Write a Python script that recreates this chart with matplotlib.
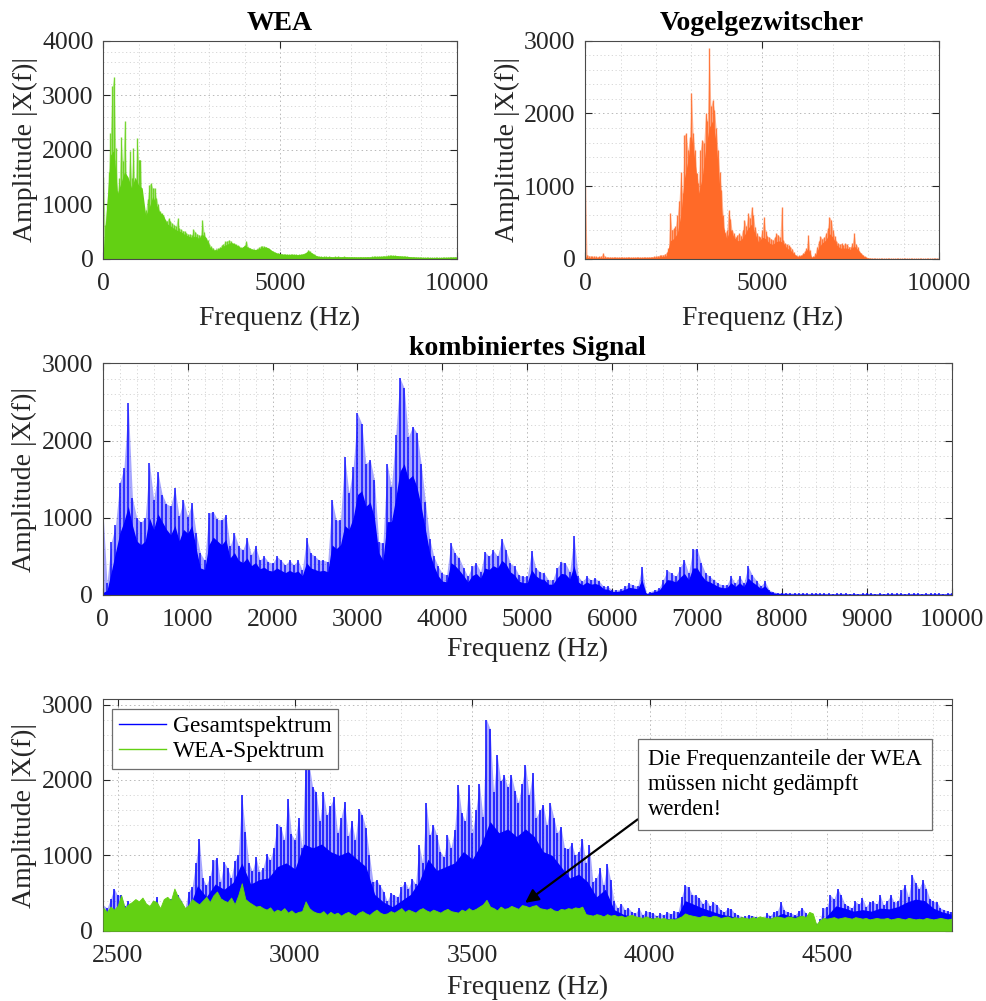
import numpy as np
import matplotlib
matplotlib.use("Agg")
import matplotlib.pyplot as plt
from matplotlib.ticker import MultipleLocator
from matplotlib.lines import Line2D

plt.rcParams['font.family'] = ['Liberation Serif', 'DejaVu Serif']

C_WEA = '#63d013'
C_BIRD = '#ff6a28'
C_MIX = '#0000ff'
C_AX = '#262626'

# ---------------- WEA spectrum (0-10000 Hz) ----------------
wea_step = 50
wea_peak = [
    1510, 630, 1000, 1600, 2310, 3160, 3340, 2030, 1240, 1480, 2240, 1790, 2520, 1500, 1360, 1970, 1480, 2030, 1180, 2210,
    1820, 1820, 990, 750, 900, 1100, 1360, 1390, 1300, 1300, 1120, 1000, 870, 840, 800, 720, 700, 750, 690, 650,
    630, 600, 750, 560, 540, 520, 510, 480, 450, 460, 440, 540, 500, 460, 445, 430, 720, 500, 390, 350,
    280, 230, 200, 170, 190, 200, 220, 260, 280, 320, 330, 350, 330, 300, 290, 270, 250, 230, 210, 220,
    260, 320, 220, 200, 190, 180, 170, 190, 210, 230, 240, 230, 220, 200, 180, 150, 140, 120, 110, 110,
    100, 95, 90, 92, 90, 85, 90, 92, 88, 85, 80, 82, 90, 100, 110, 130, 170, 140, 110, 90,
    70, 60, 50, 48, 45, 50, 46, 44, 48, 45, 42, 46, 44, 48, 45, 43, 46, 44, 45, 42,
    44, 42, 45, 40, 42, 44, 41, 43, 40, 42, 45, 43, 46, 48, 50, 52, 55, 53, 57, 60,
    62, 65, 68, 70, 66, 64, 62, 60, 58, 55, 52, 50, 48, 45, 42, 40, 38, 36, 35, 34,
    33, 32, 30, 31, 29, 30, 28, 29, 30, 28, 27, 29, 30, 31, 32, 34, 35, 36, 38, 40,
    42,
]
wea_body_step = 100
wea_body = [
    150, 1000, 1900, 2000, 1200, 1400, 1600, 1500, 1300, 1500,
    1350, 1300, 800, 950, 1150, 1000, 850, 800, 650, 600,
    560, 520, 500, 450, 420, 400, 420, 380, 450, 400,
    230, 170, 160, 200, 240, 270, 300, 280, 240, 200,
    250, 210, 180, 170, 190, 210, 220, 190, 140, 110,
    95, 85, 80, 82, 80, 78, 85, 100, 150, 110,
    65, 45, 42, 40, 42, 40, 41, 40, 42, 40,
    38, 38, 36, 36, 38, 37, 40, 42, 45, 48,
    52, 58, 62, 60, 55, 50, 45, 40, 36, 33,
    30, 28, 27, 26, 26, 27, 28, 30, 32, 34,
    36,
]

# ---------------- Vogelgezwitscher spectrum (0-10000 Hz) ----------------
bird_step = 50
bird_peak = [
    990, 60, 45, 40, 35, 40, 35, 30, 35, 40, 80, 35, 30, 28, 30, 27, 28, 30, 26, 28,
    27, 29, 26, 28, 30, 27, 26, 28, 27, 29, 28, 26, 27, 29, 28, 30, 31, 30, 32, 35,
    40, 45, 50, 55, 60, 70, 90, 150, 630, 400, 420, 450, 600, 800, 1200, 900, 1700, 1730, 1500, 1680,
    2280, 1730, 1500, 1180, 1040, 1500, 1640, 1600, 2000, 1900, 2900, 2100, 2190, 2050, 1800, 1500, 1200, 950, 600, 350,
    400, 670, 550, 400, 350, 300, 330, 350, 320, 400, 540, 450, 630, 560, 720, 600, 440, 350, 310, 300,
    400, 580, 380, 310, 300, 280, 260, 300, 350, 330, 300, 720, 260, 215, 200, 190, 170, 140, 90, 55,
    45, 50, 55, 80, 110, 150, 330, 120, 32, 40, 80, 170, 250, 310, 280, 300, 350, 420, 580, 540,
    400, 310, 250, 215, 200, 215, 190, 215, 200, 170, 170, 220, 350, 200, 170, 110, 80, 60, 35, 25,
    20, 15, 12, 10, 10, 9, 10, 9, 8, 9, 10, 9, 8, 9, 8, 8, 9, 8, 8, 9,
    8, 8, 9, 8, 8, 7, 8, 8, 9, 8, 8, 7, 8, 8, 8, 9, 8, 8, 8, 9,
    10,
]
bird_body_step = 100
bird_body = [
    30, 18, 18, 18, 18, 18, 18, 18, 18, 18,
    18, 18, 18, 18, 18, 18, 18, 18, 20, 22,
    25, 28, 35, 45, 250, 280, 350, 600, 1100, 1350,
    1700, 1350, 900, 1100, 1500, 1800, 1900, 1600, 1000, 450,
    280, 420, 300, 250, 260, 330, 420, 480, 350, 230,
    300, 280, 220, 200, 240, 250, 220, 150, 120, 70,
    30, 45, 80, 150, 18, 40, 160, 220, 260, 350,
    300, 200, 150, 150, 150, 130, 180, 130, 70, 25,
    10, 7, 6, 6, 6, 6, 6, 6, 6, 6,
    6, 6, 6, 6, 6, 6, 6, 6, 6, 6,
    6,
]

# ---------------- kombiniertes Signal (0-10000 Hz) ----------------
mix_step = 50
mix_peak = [
    1140, 160, 680, 900, 1450, 1650, 2480, 1250, 1000, 940, 1000, 1710, 1230, 1590, 1300, 1180, 1150, 1380, 1020, 1230,
    1015, 1190, 800, 540, 450, 1060, 1080, 980, 970, 1040, 630, 800, 630, 580, 735, 520, 630, 450, 500, 430,
    410, 500, 450, 390, 450, 390, 450, 320, 735, 540, 500, 450, 450, 430, 1230, 970, 970, 1790, 1320, 1660,
    2350, 2220, 1700, 1750, 1490, 690, 670, 1700, 1400, 2070, 2810, 2680, 2050, 2180, 2100, 1700, 1210, 730, 500, 370,
    280, 260, 670, 540, 475, 350, 240, 370, 410, 300, 560, 500, 580, 500, 730, 580, 410, 370, 260, 240,
    240, 570, 350, 300, 280, 195, 195, 350, 430, 410, 300, 760, 240, 175, 240, 195, 215, 175, 110, 110,
    65, 65, 75, 110, 150, 130, 110, 360, 25, 45, 65, 85, 195, 320, 280, 240, 360, 450, 280, 590,
    600, 410, 280, 240, 195, 150, 130, 130, 240, 150, 245, 150, 370, 260, 185, 120, 175, 65, 40, 30,
    30, 28, 25, 25, 22, 25, 20, 22, 25, 20, 22, 20, 18, 20, 22, 20, 18, 20, 18, 20,
    22, 20, 18, 20, 18, 20, 22, 20, 20, 18, 20, 22, 20, 18, 20, 20, 22, 20, 18, 20,
    25,
]
mix_body_step = 50
mix_body = [
    30, 60, 300, 550, 800, 950, 1150, 900, 700, 650, 700, 1000, 850, 1050, 950, 850, 780, 900, 700, 850,
    800, 900, 600, 350, 330, 650, 750, 700, 650, 720, 480, 550, 450, 420, 480, 380, 420, 340, 360, 320,
    310, 350, 320, 290, 320, 290, 310, 250, 420, 350, 330, 310, 320, 300, 650, 600, 650, 900, 850, 1000,
    1300, 1350, 1150, 1200, 1000, 550, 450, 950, 950, 1250, 1600, 1700, 1500, 1550, 1400, 1150, 850, 550, 380, 250,
    180, 170, 420, 380, 320, 250, 170, 250, 280, 220, 350, 330, 380, 350, 450, 400, 300, 260, 180, 160,
    160, 330, 250, 210, 200, 140, 140, 220, 280, 270, 210, 380, 170, 130, 170, 140, 150, 130, 80, 75,
    45, 45, 55, 75, 100, 90, 80, 200, 18, 30, 45, 60, 130, 200, 190, 170, 230, 280, 200, 350,
    350, 260, 190, 170, 140, 110, 95, 95, 160, 110, 160, 110, 220, 170, 130, 85, 120, 50, 28, 20,
    18, 17, 15, 15, 14, 15, 13, 14, 15, 13, 14, 13, 12, 13, 14, 13, 12, 13, 12, 13,
    14, 13, 12, 13, 12, 13, 14, 13, 13, 12, 13, 14, 13, 12, 13, 13, 14, 13, 12, 13,
    15,
]

# ---------------- Ausschnitt 2460-4850 Hz ----------------
zoom_start, zoom_step = 2460, 10
gesamt_peak = [
    340, 300, 420, 560, 470, 480, 330, 390, 280, 300,
    330, 345, 300, 260, 330, 450, 210, 300, 380, 420,
    400, 480, 400, 300, 520, 580, 900, 1215, 700, 600,
    720, 935, 960, 650, 910, 830, 700, 930, 1000, 1800,
    1310, 900, 790, 980, 780, 830, 1020, 940, 1100, 1420,
    1380, 1200, 1750, 1280, 1200, 1490, 1100, 2350, 2200, 1900,
    1840, 1450, 1840, 1530, 1660, 1770, 1300, 1500, 1710, 1250,
    1460, 1200, 1620, 1530, 1360, 1000, 650, 670, 600, 520,
    390, 500, 470, 450, 580, 650, 560, 690, 620, 1140,
    900, 1690, 1270, 1400, 1270, 1050, 980, 1270, 1100, 1340,
    1930, 1560, 1450, 1930, 1300, 1600, 1950, 1510, 2800, 2680,
    1840, 2330, 1990, 2060, 1900, 2060, 1860, 1700, 1950, 2200,
    1800, 2090, 1500, 1600, 1670, 1400, 1690, 1500, 1300, 1380,
    1100, 1090, 1160, 1000, 1050, 1220, 900, 1140, 650, 700,
    830, 600, 890, 670, 390, 300, 360, 280, 300, 250,
    230, 300, 210, 260, 250, 230, 200, 230, 210, 250,
    220, 260, 250, 450, 600, 580, 480, 470, 430, 360,
    410, 330, 380, 340, 280, 250, 300, 290, 230, 210,
    180, 190, 210, 200, 185, 170, 160, 230, 200, 250,
    260, 380, 270, 250, 230, 210, 260, 300, 240, 170,
    160, 90, 150, 300, 320, 470, 420, 560, 470, 360,
    330, 300, 390, 350, 430, 320, 380, 390, 350, 470,
    340, 400, 470, 380, 390, 540, 600, 450, 740, 630,
    560, 670, 560, 420, 390, 380, 300, 280, 260, 250,
]
gesamt_body_start, gesamt_body_step = 2450, 25
gesamt_body = [
    250, 220, 280, 230, 240, 210, 250, 180, 280, 300,
    280, 600, 450, 620, 550, 640, 900, 620, 680, 700,
    850, 900, 820, 1150, 1100, 1150, 1050, 1000, 1050, 950,
    850, 480, 380, 320, 400, 480, 650, 950, 800, 850,
    900, 1050, 950, 1150, 1450, 1300, 1350, 1250, 1350, 1250,
    1050, 1000, 850, 700, 750, 650, 450, 550, 280, 220,
    190, 170, 180, 150, 160, 170, 400, 350, 300, 260,
    220, 200, 170, 150, 150, 140, 180, 230, 190, 200,
    160, 80, 200, 330, 300, 260, 280, 260, 300, 290,
    320, 380, 420, 400, 300, 250, 220,
]
wea_zoom = [
    300, 250, 320, 280, 330, 470, 300, 350, 380, 420,
    390, 440, 360, 330, 400, 380, 300, 420, 450, 400,
    560, 450, 380, 300, 340, 420, 380, 350, 400, 450,
    380, 470, 520, 430, 400, 380, 440, 350, 470, 630,
    420, 380, 350, 320, 330, 300, 280, 310, 250, 280,
    260, 300, 240, 270, 230, 250, 260, 390, 300, 260,
    240, 230, 260, 210, 250, 220, 240, 200, 230, 250,
    220, 200, 240, 260, 230, 210, 250, 280, 240, 220,
    230, 260, 240, 270, 300, 250, 280, 260, 240, 280,
    300, 270, 250, 280, 260, 240, 270, 290, 260, 250,
    240, 280, 260, 300, 270, 290, 320, 350, 410, 320,
    300, 270, 320, 290, 300, 330, 310, 290, 340, 330,
    310, 330, 340, 300, 290, 280, 300, 270, 260, 290,
    280, 300, 290, 310, 300, 320, 220, 210, 200, 220,
    210, 190, 220, 200, 210, 190, 200, 180, 200, 210,
    190, 180, 170, 190, 170, 160, 180, 160, 170, 150,
    160, 150, 170, 190, 230, 210, 200, 190, 180, 200,
    190, 180, 200, 190, 170, 180, 190, 170, 180, 170,
    180, 170, 160, 180, 170, 190, 180, 170, 160, 180,
    190, 180, 170, 190, 180, 170, 190, 200, 180, 250,
    230, 80, 140, 170, 160, 170, 180, 160, 170, 180,
    170, 160, 180, 170, 160, 170, 150, 160, 170, 160,
    160, 170, 150, 160, 170, 160, 150, 170, 160, 150,
    160, 150, 170, 160, 150, 160, 170, 160, 150, 160,
]

note_text = "Die Frequenzanteile der WEA\nmüssen nicht gedämpft\nwerden!"


def grid_of(start, step, values):
    return start + step * np.arange(len(values))


def draw_spectrum(ax, f_peak, peak, f_body, body, color, lw=1.0, alpha=0.85, haze=0.35):
    # dense part of the magnitude spectrum
    ax.fill_between(f_body, 0, body, color=color, lw=0, zorder=2)
    # individual spectral lines above it
    ax.fill_between(f_peak, 0, peak, color=color, lw=0, alpha=haze, zorder=2)
    ax.vlines(f_peak, 0, peak, color=color, lw=lw, alpha=alpha, zorder=2)


def style(ax, xlim, ylim, xmaj, xmin, ymaj, ymin, xlabelpad=5):
    ax.set_xlim(*xlim)
    ax.set_ylim(*ylim)
    ax.xaxis.set_major_locator(MultipleLocator(xmaj))
    ax.xaxis.set_minor_locator(MultipleLocator(xmin))
    ax.yaxis.set_major_locator(MultipleLocator(ymaj))
    ax.yaxis.set_minor_locator(MultipleLocator(ymin))
    ax.set_axisbelow(True)
    ax.grid(which='major', color='#b8b8b8', lw=0.7, linestyle=(0, (1.5, 3)))
    ax.grid(which='minor', color='#d2d2d2', lw=0.6, linestyle=(0, (1.5, 3)))
    ax.tick_params(which='major', direction='in', length=5, width=0.8,
                   top=True, right=True, labelsize=18.5, colors=C_AX, pad=7)
    ax.tick_params(axis='x', which='major', pad=10)
    ax.tick_params(which='minor', length=0, top=True, right=True)
    for s in ax.spines.values():
        s.set_color('#4a4a4a')
        s.set_linewidth(0.8)
    ax.set_xlabel('Frequenz (Hz)', fontsize=20, color=C_AX, labelpad=xlabelpad)
    ax.set_ylabel('Amplitude |X(f)|', fontsize=20, color=C_AX, labelpad=3)


fig = plt.figure(figsize=(9.86, 10.01), dpi=100)
ax1 = fig.add_axes([0.1048, 0.7413, 0.3584, 0.2181])
ax2 = fig.add_axes([0.5936, 0.7413, 0.3587, 0.2181])
ax3 = fig.add_axes([0.1042, 0.4056, 0.8611, 0.2315])
ax4 = fig.add_axes([0.1042, 0.0702, 0.8611, 0.2312])

# WEA
draw_spectrum(ax1, grid_of(0, wea_step, wea_peak), wea_peak,
              grid_of(0, wea_body_step, wea_body), wea_body, C_WEA, lw=1.0, haze=0.45)
style(ax1, (0, 10000), (0, 4000), 5000, 1000, 1000, 200, xlabelpad=8)
ax1.set_title('WEA', fontsize=20, fontweight='bold', color='k', pad=8)

# Vogelgezwitscher
draw_spectrum(ax2, grid_of(0, bird_step, bird_peak), bird_peak,
              grid_of(0, bird_body_step, bird_body), bird_body, C_BIRD, lw=1.0, haze=0.45)
style(ax2, (0, 10000), (0, 3000), 5000, 1000, 1000, 200, xlabelpad=8)
ax2.set_title('Vogelgezwitscher', fontsize=20, fontweight='bold', color='k', pad=8)

# kombiniertes Signal
draw_spectrum(ax3, grid_of(0, mix_step, mix_peak), mix_peak,
              grid_of(0, mix_body_step, mix_body), mix_body, C_MIX, lw=1.2, alpha=0.85, haze=0.35)
style(ax3, (0, 10000), (0, 3000), 1000, 200, 1000, 200, xlabelpad=4)
ax3.set_title('kombiniertes Signal', fontsize=20, fontweight='bold', color='k', pad=6)

# Ausschnitt mit WEA-Anteil
f_zoom = grid_of(zoom_start, zoom_step, gesamt_peak)
draw_spectrum(ax4, f_zoom, gesamt_peak,
              grid_of(gesamt_body_start, gesamt_body_step, gesamt_body), gesamt_body,
              C_MIX, lw=1.2, alpha=0.9, haze=0.35)
f_wea_zoom = grid_of(zoom_start, zoom_step, wea_zoom)
ax4.fill_between(f_wea_zoom, 0, wea_zoom, color=C_WEA, lw=0.6, edgecolor=C_WEA, zorder=3)
style(ax4, (2458, 4852), (0, 3070), 500, 100, 1000, 200, xlabelpad=6)

handles = [Line2D([], [], color=C_MIX, lw=1.0), Line2D([], [], color=C_WEA, lw=1.0)]
leg = ax4.legend(handles, ['Gesamtspektrum', 'WEA-Spektrum'], loc='upper left',
                 bbox_to_anchor=(0.011, 0.958), borderaxespad=0, fontsize=16.8,
                 fancybox=False, framealpha=1, edgecolor='#6e6e6e',
                 handlelength=2.0, handletextpad=0.3, borderpad=0.3, labelspacing=0.15)
leg.get_frame().set_linewidth(0.9)
leg.set_zorder(6)

ax4.annotate(note_text, xy=(3649, 370), xycoords='data',
             xytext=(0.6425, 0.785), textcoords='axes fraction',
             ha='left', va='top', fontsize=16.3, color='k', linespacing=1.25,
             bbox=dict(boxstyle='square,pad=0.45', fc='white', ec='#6e6e6e', lw=0.9),
             arrowprops=dict(arrowstyle='-|>', color='k', lw=1.6, mutation_scale=20,
                             shrinkA=0, shrinkB=0, relpos=(0, 0.12)),
             zorder=6)

fig.savefig('out.png', dpi=100)
